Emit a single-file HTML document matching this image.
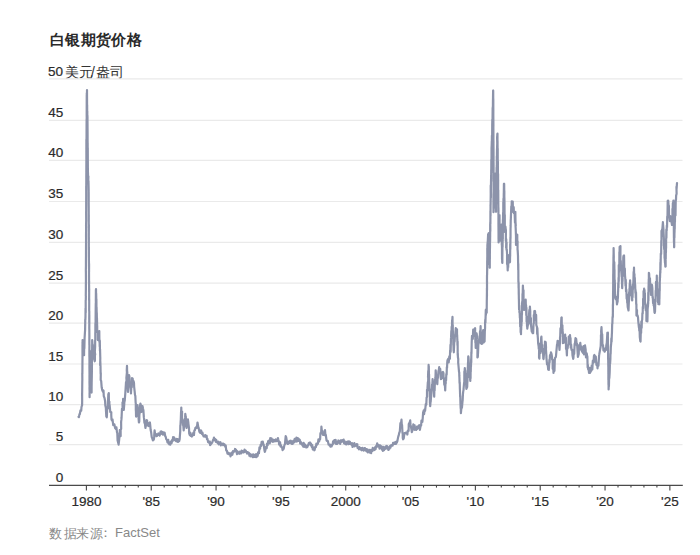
<!DOCTYPE html>
<html><head><meta charset="utf-8"><style>
html,body{margin:0;padding:0;background:#fff;width:700px;height:555px;overflow:hidden}
body{font-family:"Liberation Sans",sans-serif;position:relative}
.t{position:absolute;white-space:nowrap;line-height:20px}
svg{position:absolute;left:0;top:0}
</style></head><body>
<div class="t" style="left:50.2px;top:30px;font-size:15px;font-weight:bold;color:#2a2a2a">白</div><div class="t" style="left:65.1px;top:30px;font-size:15px;font-weight:bold;color:#2a2a2a">银</div><div class="t" style="left:80.9px;top:30px;font-size:15px;font-weight:bold;color:#2a2a2a">期</div><div class="t" style="left:96.1px;top:30px;font-size:15px;font-weight:bold;color:#2a2a2a">货</div><div class="t" style="left:111.1px;top:30px;font-size:15px;font-weight:bold;color:#2a2a2a">价</div><div class="t" style="left:126.5px;top:30px;font-size:15px;font-weight:bold;color:#2a2a2a">格</div>
<div class="t" style="left:48px;top:62.2px;font-size:13.5px;font-weight:normal;color:#2b2b2b;-webkit-text-stroke:0.2px #2b2b2b;top:62px">50</div><div class="t" style="left:65.1px;top:62.2px;font-size:14px;font-weight:normal;color:#333">美</div><div class="t" style="left:78.6px;top:62.2px;font-size:14px;font-weight:normal;color:#333">元</div><div class="t" style="left:91.0px;top:62.2px;font-size:14px;font-weight:normal;color:#333">/</div><div class="t" style="left:96.0px;top:62.2px;font-size:14px;font-weight:normal;color:#333">盎</div><div class="t" style="left:110.3px;top:62.2px;font-size:14px;font-weight:normal;color:#333">司</div>
<div class="t" style="left:49.4px;top:523.5px;font-size:13.2px;font-weight:normal;color:#888">数</div><div class="t" style="left:63.6px;top:523.5px;font-size:13.2px;font-weight:normal;color:#888">据</div><div class="t" style="left:76.2px;top:523.5px;font-size:13.2px;font-weight:normal;color:#888">来</div><div class="t" style="left:89.8px;top:523.5px;font-size:13.2px;font-weight:normal;color:#888">源</div><div class="t" style="left:99.3px;top:523.3px;font-size:13px;font-weight:normal;color:#888">：</div><div class="t" style="left:115px;top:523.3px;font-size:13px;font-weight:normal;color:#888">FactSet</div>
<svg width="700" height="555" viewBox="0 0 700 555">
<g stroke="#eaeaea" stroke-width="1.2" fill="none"><line x1="49" y1="78.9" x2="682.5" y2="78.9" /><line x1="49" y1="120.3" x2="682.5" y2="120.3" /><line x1="49" y1="160.4" x2="682.5" y2="160.4" /><line x1="49" y1="201.5" x2="682.5" y2="201.5" /><line x1="49" y1="242.3" x2="682.5" y2="242.3" /><line x1="49" y1="283.2" x2="682.5" y2="283.2" /><line x1="49" y1="323.2" x2="682.5" y2="323.2" /><line x1="49" y1="364.0" x2="682.5" y2="364.0" /><line x1="49" y1="404.6" x2="682.5" y2="404.6" /><line x1="49" y1="444.65" x2="682.5" y2="444.65" /></g>
<g font-family="Liberation Sans" font-size="13.5" fill="#2b2b2b" stroke="#2b2b2b" stroke-width="0.2"><text x="63.3" y="117.10" text-anchor="end">45</text><text x="63.3" y="157.20" text-anchor="end">40</text><text x="63.3" y="198.30" text-anchor="end">35</text><text x="63.3" y="239.10" text-anchor="end">30</text><text x="63.3" y="280.00" text-anchor="end">25</text><text x="63.3" y="320.00" text-anchor="end">20</text><text x="63.3" y="360.80" text-anchor="end">15</text><text x="63.3" y="401.40" text-anchor="end">10</text><text x="63.3" y="441.45" text-anchor="end">5</text><text x="63.3" y="482.30" text-anchor="end">0</text></g>
<polyline points="78.50,416.80 78.93,417.12 79.47,414.11 79.80,414.27 80.50,410.30 81.22,410.70 81.50,407.00 82.10,405.20 82.16,400.46 82.16,400.56 82.12,393.52 82.16,392.55 82.23,386.80 82.22,386.16 82.28,381.37 82.34,379.73 82.27,372.91 82.37,373.74 82.38,369.59 82.39,371.75 82.42,364.29 82.43,364.07 82.48,358.83 82.51,354.79 82.48,345.17 82.55,344.21 82.50,342.38 82.61,343.50 82.60,340.10 83.50,345.00 83.88,344.60 83.86,350.78 84.10,355.20 84.07,353.79 84.18,346.43 84.36,348.53 84.60,338.07 84.60,338.00 84.99,331.54 85.10,330.00 85.19,323.74 85.19,325.82 85.25,319.33 85.34,320.92 85.50,315.98 85.48,317.55 85.54,308.28 85.72,312.43 85.68,300.56 85.80,300.00 85.87,296.06 85.78,296.01 85.90,287.04 85.87,290.86 85.89,282.19 85.91,286.76 85.95,275.40 85.94,281.38 85.91,273.21 85.86,270.21 85.96,265.01 85.94,268.78 85.94,264.02 85.94,261.57 86.03,252.57 85.99,258.36 86.03,245.15 86.05,245.04 86.07,237.11 86.08,237.26 86.11,233.12 86.03,236.80 86.12,226.47 86.13,231.41 86.11,226.58 86.05,226.32 86.18,220.51 86.19,221.33 86.13,211.92 86.17,211.61 86.23,203.13 86.18,209.41 86.20,200.00 86.22,194.63 86.19,185.92 86.28,190.32 86.27,183.23 86.28,191.48 86.30,175.37 86.28,177.39 86.36,169.21 86.33,172.47 86.38,158.69 86.37,163.49 86.43,145.70 86.37,159.46 86.37,139.47 86.42,146.27 86.47,144.28 86.51,152.03 86.43,142.46 86.55,154.06 86.51,140.27 86.56,154.65 86.52,137.75 86.53,142.12 86.56,127.00 86.56,128.33 86.60,120.00 86.70,118.20 86.71,110.98 86.67,116.65 86.73,94.99 86.85,108.48 86.78,93.05 86.87,98.26 86.96,95.88 87.00,103.81 87.00,90.00 87.09,109.25 87.04,97.64 87.07,108.62 87.13,104.80 87.16,116.11 87.16,104.84 87.20,115.68 87.30,111.10 87.29,119.06 87.42,115.23 87.41,123.78 87.49,116.43 87.50,121.25 87.48,119.20 87.59,134.62 87.60,140.00 87.66,149.41 87.67,142.63 87.71,155.34 87.77,147.76 87.86,169.39 87.83,161.75 87.88,172.78 87.89,168.49 87.95,172.90 88.00,172.50 88.11,183.28 88.39,176.34 88.21,182.19 88.47,180.76 88.67,191.10 88.60,192.50 88.62,197.33 88.68,192.10 88.70,201.53 88.61,197.39 88.67,203.21 88.72,207.51 88.74,221.89 88.77,214.64 88.76,224.97 88.74,219.13 88.76,227.66 88.87,224.43 88.81,233.41 88.85,225.52 88.80,239.43 88.85,237.18 88.83,249.65 88.93,246.95 88.90,257.13 88.90,249.34 88.92,260.03 88.97,263.68 89.05,269.52 89.07,263.41 89.04,271.91 89.00,270.33 89.06,282.87 89.13,281.34 89.04,285.03 89.09,285.04 89.11,291.64 89.18,288.53 89.12,300.40 89.16,298.67 89.20,300.00 89.20,304.64 89.17,310.57 89.29,311.68 89.22,319.42 89.32,314.69 89.31,322.56 89.29,315.34 89.24,322.47 89.33,321.29 89.27,328.36 89.32,329.62 89.38,337.05 89.34,337.51 89.36,345.07 89.44,344.52 89.37,352.09 89.37,355.18 89.37,356.44 89.41,355.79 89.50,363.38 89.47,362.15 89.45,367.14 89.44,367.36 89.52,375.48 89.48,375.45 89.52,380.56 89.48,382.15 89.58,386.91 89.50,387.86 89.63,392.81 89.56,392.97 89.60,397.20 89.67,388.89 89.71,391.04 89.76,384.04 89.81,385.08 89.77,379.10 89.86,379.02 89.89,373.08 89.89,374.39 89.96,367.75 90.02,369.08 90.01,363.10 90.11,362.78 90.14,354.79 90.13,356.34 90.20,351.20 90.30,351.70 90.45,351.74 90.49,359.94 90.60,360.96 90.77,368.17 90.81,366.99 90.94,377.76 91.05,375.18 91.23,378.12 91.26,380.29 91.43,388.05 91.47,386.11 91.60,392.60 91.62,384.42 91.65,385.84 91.69,380.58 91.69,382.19 91.82,376.08 91.80,376.67 91.90,370.97 91.87,370.96 91.96,364.20 91.90,364.77 91.96,356.67 92.07,358.80 92.07,349.11 92.12,352.10 92.16,345.01 92.18,347.60 92.20,340.10 92.75,347.54 92.85,344.79 93.02,354.71 93.50,355.00 94.01,358.57 94.70,361.30 94.91,360.18 94.90,354.16 95.20,354.79 94.83,351.72 95.13,346.60 95.17,340.23 95.30,340.00 95.29,332.74 95.36,332.38 95.39,323.61 95.43,326.41 95.48,322.66 95.61,327.90 95.61,316.50 95.58,319.96 95.72,306.00 95.69,310.01 95.76,303.38 95.78,308.69 95.87,301.10 95.83,301.28 95.90,289.97 95.92,290.33 96.00,289.00 96.08,295.51 96.16,293.28 96.31,300.63 96.41,299.20 96.45,308.00 96.57,307.16 96.76,316.85 96.79,312.82 96.96,323.42 96.96,317.95 97.15,326.02 97.20,326.00 97.23,332.14 97.80,332.96 97.86,339.80 98.00,340.00 98.65,340.40 99.10,333.56 99.30,331.00 99.36,338.33 99.51,342.37 99.59,340.51 99.71,346.45 99.82,340.65 99.95,351.10 100.05,349.10 100.24,356.50 100.30,358.00 100.17,365.23 100.32,361.22 100.51,367.65 100.50,365.67 100.65,374.05 100.78,372.95 100.70,380.00 101.17,380.92 101.67,387.30 102.20,390.10 102.97,391.70 103.50,390.50 103.77,396.10 104.56,398.19 105.09,400.93 105.30,405.20 105.89,407.89 105.88,408.95 106.31,416.47 106.80,417.30 106.93,415.05 107.14,409.10 107.77,408.58 107.94,402.49 108.07,399.98 108.33,394.18 108.74,395.37 108.80,393.10 108.92,401.92 109.40,401.70 109.34,406.27 109.61,404.94 110.21,411.01 110.20,412.00 110.63,411.69 111.30,412.30 111.26,415.00 111.50,419.40 112.01,420.42 112.51,419.51 113.23,425.12 113.64,424.56 114.40,424.40 115.10,428.00 115.81,428.95 116.40,427.40 116.96,432.06 117.30,433.13 117.59,440.57 118.19,442.82 118.60,444.60 118.97,441.27 119.04,441.07 119.69,433.95 119.80,430.20 120.50,436.00 120.66,436.04 120.64,429.71 121.17,428.86 121.12,421.77 121.38,419.93 121.60,417.20 121.71,414.45 121.97,408.92 122.57,409.25 122.51,402.41 123.05,401.86 123.10,398.90 123.50,401.53 123.68,402.43 123.80,410.00 124.29,403.92 124.13,405.10 124.47,401.23 124.70,401.16 125.34,392.77 125.50,390.10 126.03,382.19 126.35,385.15 126.50,380.00 126.39,377.92 126.91,372.45 126.77,370.26 127.00,365.80 127.12,371.06 127.28,372.11 127.35,378.29 127.51,378.71 127.61,384.26 127.78,382.24 127.84,390.50 128.00,392.00 128.05,389.37 128.40,384.30 128.75,379.78 128.97,375.12 129.00,375.00 129.37,376.20 129.82,383.81 130.27,385.42 130.50,388.00 131.00,393.00 130.96,393.40 131.40,385.57 131.79,387.30 131.93,380.25 132.00,378.00 132.67,378.56 133.12,384.06 133.54,381.07 134.00,383.00 134.15,386.82 134.67,391.72 134.66,391.44 135.00,395.00 135.33,395.94 135.66,403.03 135.79,403.28 135.82,410.61 135.92,410.60 136.05,416.60 136.50,416.20 136.81,415.29 137.29,408.95 137.50,405.00 137.64,406.66 138.25,412.76 138.43,413.16 138.60,418.78 138.90,422.50 139.26,421.54 139.38,414.46 139.60,413.91 139.98,407.06 140.09,405.27 140.40,403.60 141.09,405.91 141.50,412.00 142.11,409.79 142.50,406.00 143.10,409.00 143.38,410.16 143.87,417.38 144.00,418.00 144.43,422.81 144.82,422.45 145.40,428.00 146.10,424.16 146.50,420.00 147.07,420.45 147.53,425.30 148.07,423.07 148.66,426.02 149.00,424.40 149.90,422.50 150.24,425.44 150.66,430.07 151.15,432.34 151.73,437.06 152.20,438.20 152.90,440.46 153.40,439.15 153.80,439.70 154.29,436.64 154.21,435.30 154.60,430.30 155.03,433.58 156.00,433.97 156.54,436.15 157.00,436.00 157.65,434.81 158.34,433.50 158.63,434.80 159.30,435.00 159.69,435.52 160.56,431.68 161.09,433.91 161.60,431.48 162.00,433.00 162.58,432.12 163.08,434.68 163.78,432.49 164.05,433.90 164.63,432.75 165.25,436.26 165.60,436.60 166.27,439.25 167.00,440.00 167.45,442.41 168.24,439.86 168.65,443.64 169.04,441.99 169.50,444.50 170.02,443.41 170.40,444.63 171.05,441.38 171.64,443.07 172.00,440.00 172.60,441.05 173.08,437.15 173.45,438.99 174.20,437.40 174.73,440.08 175.28,439.18 176.00,441.00 176.69,438.98 177.09,441.46 177.62,439.14 178.09,442.00 178.86,439.34 179.16,441.17 179.70,439.00 179.80,437.03 180.08,433.38 180.23,431.41 180.31,425.47 180.46,425.53 180.70,420.45 180.77,420.55 181.03,412.21 181.20,410.50 181.30,407.50 181.39,411.92 182.08,411.58 181.98,419.32 182.50,420.00 183.05,425.20 183.26,424.87 183.70,430.30 183.92,427.62 184.58,425.23 184.71,418.97 185.15,417.14 185.30,413.80 185.69,416.93 185.79,416.24 186.08,422.28 186.50,428.00 187.37,423.38 187.90,419.30 188.38,422.88 188.34,423.22 189.02,428.25 189.20,433.50 189.78,435.21 190.36,432.73 190.73,435.87 191.13,434.29 191.93,436.51 192.30,435.00 192.69,435.33 193.41,432.66 193.93,435.03 194.40,430.34 195.00,430.00 195.42,427.74 195.76,428.28 196.49,426.56 196.88,427.88 197.50,422.50 198.37,427.36 198.61,427.71 199.40,431.90 200.11,430.37 200.22,432.89 201.19,430.54 201.51,433.13 202.00,434.00 202.41,432.62 202.93,434.87 203.67,436.48 204.10,435.95 204.90,436.60 205.26,435.12 206.19,436.96 206.63,435.87 206.95,439.17 207.40,438.80 208.10,442.10 208.51,441.15 209.35,443.12 209.84,441.51 210.14,445.12 210.73,444.29 211.20,443.70 211.62,443.16 212.18,442.54 213.00,440.00 213.49,439.70 213.97,437.62 214.57,440.20 215.10,439.00 215.90,441.91 216.19,439.87 216.75,442.12 217.50,442.10 217.93,443.37 218.40,441.74 218.76,444.43 219.33,442.54 220.00,443.00 220.40,442.16 220.82,445.42 221.39,443.53 222.00,444.00 222.42,443.73 223.14,445.17 223.34,443.60 224.05,444.77 224.60,444.50 225.36,447.00 225.74,445.57 226.21,450.45 226.90,450.80 227.46,453.63 227.93,452.58 228.54,454.23 229.06,453.21 229.59,453.85 229.97,453.43 230.50,456.31 231.00,455.00 231.30,455.09 231.80,452.51 232.35,454.77 233.00,451.00 233.39,452.35 233.89,451.26 234.62,451.29 235.02,448.96 235.70,449.50 236.11,449.93 237.07,454.19 237.44,451.23 238.00,453.50 238.45,452.99 239.26,453.72 239.70,451.72 240.05,451.95 240.51,452.34 240.99,453.44 241.57,450.62 241.89,452.15 242.65,451.05 243.22,452.53 243.60,451.00 244.04,452.17 244.52,449.66 245.13,451.34 245.76,450.58 246.26,452.37 246.72,451.88 247.08,453.62 247.75,452.13 248.30,452.70 248.86,452.79 249.41,455.75 249.87,453.79 250.35,456.31 250.89,454.60 251.40,455.00 251.84,454.94 252.45,457.06 253.11,454.33 253.28,457.10 253.97,456.40 254.67,456.93 255.19,454.64 255.52,457.02 256.30,454.22 256.66,457.10 257.17,455.09 257.70,455.80 258.05,452.34 258.94,453.28 259.46,447.35 260.10,448.70 260.62,444.84 261.08,446.02 261.63,441.85 262.43,444.33 262.80,441.70 263.34,444.44 263.71,444.52 264.47,450.27 264.80,451.90 265.13,451.17 266.05,446.80 266.72,448.20 266.97,443.70 267.63,445.25 268.16,441.09 268.70,442.50 269.41,440.24 269.76,443.46 270.22,438.22 270.99,441.53 271.52,438.45 271.90,439.30 272.63,439.68 272.91,441.93 273.48,439.91 274.00,441.00 274.68,440.10 274.81,441.34 275.66,439.46 276.02,441.17 276.60,440.90 277.16,440.88 277.90,438.12 278.20,439.30 278.58,440.47 279.19,444.52 280.08,442.35 280.50,446.40 280.97,445.33 281.45,447.09 282.02,447.12 282.58,450.07 283.36,449.27 283.70,448.70 284.38,445.14 284.90,444.44 285.43,438.83 285.70,436.20 286.19,437.24 287.15,443.22 287.60,444.00 288.04,443.86 288.61,441.58 289.34,443.07 290.00,440.90 290.46,441.99 290.88,440.69 291.59,443.80 292.11,442.23 292.60,443.93 293.21,440.81 293.90,442.50 294.66,438.91 294.83,441.79 295.50,438.50 296.06,440.38 296.41,437.55 296.89,441.58 297.74,438.16 298.20,440.95 298.44,438.69 299.35,441.21 299.73,439.73 300.23,443.56 300.61,441.58 301.36,443.81 301.80,443.20 302.44,445.47 302.89,444.16 303.23,446.71 303.67,442.88 304.23,446.95 305.01,444.47 305.41,446.73 305.65,445.23 306.24,447.48 306.68,446.34 307.30,447.20 307.97,445.12 308.20,445.42 308.80,443.12 309.60,442.50 310.27,442.56 310.85,445.31 311.11,443.81 311.85,447.13 312.17,444.98 312.83,449.49 313.23,447.30 313.88,448.72 314.30,450.30 314.61,450.06 315.39,446.51 315.97,446.98 316.36,443.70 316.82,444.99 317.50,444.00 317.87,443.84 318.43,439.36 319.19,441.36 319.50,440.00 320.11,439.07 320.43,433.22 321.09,433.70 321.40,426.70 321.89,431.14 322.41,430.82 323.18,435.00 323.80,434.60 324.53,435.00 325.00,430.00 325.49,435.50 325.75,434.71 326.57,440.48 327.00,440.90 327.32,440.63 327.90,441.09 328.57,444.50 329.14,444.44 329.62,445.59 330.00,445.60 330.55,446.68 330.90,444.71 331.60,446.40 332.38,444.36 332.72,444.42 333.07,441.31 333.67,443.38 334.40,440.10 334.79,441.78 335.66,439.90 335.98,443.79 336.52,441.64 337.10,444.00 337.47,442.25 338.07,442.85 338.39,440.47 339.08,442.38 339.84,441.67 340.16,443.88 340.65,440.39 341.14,442.08 341.50,440.28 342.25,441.46 342.60,440.10 343.19,441.81 343.65,439.52 344.10,443.46 344.69,441.24 345.35,444.12 345.70,443.20 346.26,444.39 346.77,441.95 347.30,441.70 347.96,441.61 348.44,444.26 348.96,441.45 349.53,443.82 349.91,441.85 350.40,444.00 350.89,443.56 351.51,444.81 351.96,443.13 352.59,446.97 353.25,444.39 353.72,445.85 354.30,443.09 354.62,446.46 355.20,445.60 355.58,445.51 356.46,444.21 356.64,445.87 357.33,444.32 357.57,448.02 358.36,447.60 358.95,449.38 359.39,447.10 359.90,448.00 360.29,447.92 361.12,449.94 361.61,448.14 361.91,450.27 362.45,447.84 363.00,449.50 363.65,448.82 363.77,450.59 364.53,448.05 365.00,448.00 365.30,448.99 366.24,451.03 366.39,449.04 367.00,451.43 367.73,449.42 367.81,452.45 368.50,451.10 369.07,451.65 369.74,449.76 370.14,452.75 370.60,451.90 371.09,453.24 371.65,449.96 372.54,450.92 372.73,447.95 373.26,449.75 374.00,448.70 374.41,450.01 374.90,447.40 375.53,449.27 376.04,446.19 376.34,447.37 377.14,443.40 377.66,444.29 378.00,444.80 378.32,446.49 378.97,445.12 379.52,448.64 380.08,445.38 381.02,448.15 381.53,446.28 381.90,449.50 382.52,447.58 382.87,450.87 383.52,446.74 384.05,450.14 384.75,447.97 385.24,448.74 385.80,446.40 386.36,447.90 386.98,446.00 387.20,448.60 387.73,446.77 388.44,449.95 389.00,448.70 389.44,448.74 390.16,445.86 390.45,447.74 390.96,445.30 391.78,445.13 392.10,445.60 392.63,445.60 393.09,442.75 393.72,444.06 394.50,442.50 395.03,443.93 395.86,441.89 396.06,443.79 396.80,442.50 397.32,441.29 398.20,436.84 398.72,435.39 399.20,433.00 399.81,431.49 400.41,423.14 400.80,424.57 401.50,419.70 401.84,425.91 402.07,424.95 402.48,433.25 402.73,433.34 402.75,437.87 403.10,439.30 403.68,438.47 404.49,433.18 405.04,433.62 405.50,433.00 405.84,432.55 406.86,432.43 407.34,434.54 407.80,430.70 408.61,430.81 408.77,424.05 409.75,422.29 410.20,420.40 410.54,424.69 411.46,429.48 411.80,432.20 412.39,430.35 412.92,429.79 413.30,424.40 413.82,427.63 414.62,425.28 414.94,429.88 415.70,428.30 416.30,429.87 416.93,426.66 417.45,428.85 418.00,426.70 418.54,426.03 419.21,425.14 419.90,429.90 420.69,425.26 421.12,425.60 421.45,420.51 422.36,421.79 422.80,417.30 423.10,412.50 423.70,410.50 424.11,414.24 424.65,409.26 425.10,411.00 425.76,404.20 426.30,404.60 426.60,397.65 426.98,396.98 427.01,389.77 427.08,391.53 427.50,388.90 427.51,387.69 427.85,382.05 428.11,385.25 428.22,377.25 428.00,377.27 428.25,370.81 428.47,372.14 428.60,364.90 428.72,370.83 428.80,366.37 428.95,375.54 429.07,374.17 429.16,381.27 429.30,382.67 429.43,390.89 429.53,388.56 429.75,396.62 429.85,395.66 429.90,403.26 430.05,401.15 430.20,406.20 430.48,402.39 430.69,401.76 431.02,397.21 431.21,396.17 431.53,389.69 431.83,389.37 432.06,384.48 432.32,385.44 432.60,379.00 433.08,383.45 433.01,382.75 433.59,388.71 433.74,390.49 434.20,396.70 434.40,389.90 434.60,390.73 434.79,385.04 434.96,383.27 435.09,379.27 435.33,379.47 435.48,377.17 435.70,370.40 436.06,375.03 436.40,378.90 436.78,380.31 437.30,384.20 437.67,377.22 437.99,378.05 438.47,370.85 438.73,370.53 439.20,367.20 439.85,370.00 440.25,368.98 440.92,379.16 441.20,379.00 441.57,378.60 442.24,372.50 443.00,372.00 443.45,373.23 443.59,378.28 443.95,378.25 444.26,384.54 444.91,385.83 445.20,390.40 445.45,384.07 445.70,383.40 445.87,377.82 446.08,380.43 446.31,374.01 446.64,374.75 446.83,367.17 447.05,367.85 447.26,362.32 447.50,360.20 448.32,358.65 448.71,362.46 449.30,356.46 449.90,358.60 450.11,350.50 450.25,352.37 450.47,344.90 450.64,351.85 450.96,338.52 451.04,337.89 451.33,330.84 451.54,334.39 451.65,326.83 451.94,329.56 452.10,320.27 452.32,319.52 452.50,316.90 452.58,325.27 452.78,324.93 452.85,336.14 452.92,330.92 453.10,338.64 453.21,338.09 453.31,345.27 453.40,343.67 453.61,350.96 453.74,346.10 453.80,352.30 454.17,344.08 454.16,343.93 454.42,339.60 454.55,341.90 455.00,335.00 455.28,335.10 455.77,328.10 456.60,335.58 457.00,329.30 457.04,335.21 457.15,334.88 457.33,340.58 457.36,339.33 457.46,345.24 457.64,341.57 457.70,355.33 457.82,353.40 457.90,357.00 458.24,359.02 458.20,362.87 458.42,365.00 459.05,372.24 459.22,372.38 459.30,375.90 459.41,377.63 459.57,383.13 459.74,382.39 459.88,389.34 459.93,389.61 460.15,397.04 460.27,395.80 460.39,400.84 460.45,403.30 460.68,408.54 460.80,407.11 460.90,413.20 461.39,408.25 461.95,407.73 462.50,401.40 462.63,400.72 462.94,394.17 463.20,391.60 463.59,389.46 463.54,389.04 464.08,383.09 464.31,381.64 464.35,371.53 464.42,374.96 464.80,368.00 465.29,372.66 465.26,370.68 465.63,378.79 466.08,380.84 466.22,386.91 466.40,388.90 467.20,386.90 467.33,381.99 467.42,382.29 467.57,373.31 467.65,378.09 467.78,367.30 467.80,370.83 468.02,362.22 468.09,364.41 468.22,357.39 468.30,356.40 468.51,357.21 468.87,364.05 469.28,363.77 469.40,368.82 469.71,368.19 469.72,377.25 469.88,376.54 470.30,381.00 470.40,377.23 470.59,378.33 470.61,369.77 470.76,371.73 470.87,365.16 470.97,366.62 471.16,358.70 471.27,362.53 471.35,351.90 471.49,353.54 471.64,345.06 471.70,342.30 472.00,335.85 472.80,338.82 473.17,329.68 473.86,335.91 474.52,329.45 474.90,328.50 475.13,328.10 475.11,331.23 475.25,335.11 475.36,342.59 475.58,342.81 475.70,348.00 475.88,346.15 476.33,346.17 476.41,335.60 476.60,333.40 476.86,334.93 476.94,339.38 477.27,341.78 477.48,347.71 477.51,348.53 477.41,357.40 477.80,357.00 478.03,353.02 478.34,344.45 478.59,343.86 478.94,340.34 479.17,339.96 479.52,336.06 479.80,337.58 480.02,331.21 480.33,333.13 480.60,326.20 480.80,337.27 480.96,337.86 480.92,343.25 481.27,338.47 481.50,344.00 482.08,336.74 482.26,343.76 482.59,334.12 483.20,330.20 483.19,331.60 483.39,336.63 483.62,336.93 483.80,342.30 484.23,338.60 484.59,341.43 484.80,332.00 484.75,332.40 485.07,328.28 485.10,323.00 485.25,319.72 485.42,322.65 485.81,309.90 485.87,315.23 486.56,308.33 486.70,312.69 486.80,300.00 486.83,300.07 486.92,292.83 486.96,296.23 486.92,288.14 487.01,290.32 487.01,280.90 486.97,282.40 487.01,275.49 487.10,274.31 487.18,266.81 487.18,270.84 487.19,260.54 487.24,265.08 487.28,257.07 487.33,260.77 487.28,248.13 487.35,252.14 487.40,245.00 487.85,240.02 488.11,234.44 488.80,233.10 488.92,235.73 488.99,248.13 489.08,242.02 489.07,250.38 489.23,248.27 489.31,263.73 489.31,259.01 489.41,264.64 489.57,264.58 489.62,267.70 489.70,267.30 489.79,267.70 489.80,256.92 489.87,259.05 489.85,250.93 489.86,254.74 490.01,244.46 489.97,248.06 490.01,237.77 490.11,241.51 490.19,229.84 490.15,237.16 490.20,223.81 490.34,231.35 490.28,221.94 490.39,224.65 490.43,210.76 490.52,215.94 490.55,204.60 490.50,205.60 490.60,205.00 490.72,194.95 490.70,185.39 490.76,194.78 490.86,187.84 490.93,197.49 490.93,189.20 491.01,181.89 491.13,175.07 491.17,181.35 491.20,171.07 491.30,168.02 491.32,159.60 491.34,172.85 491.49,159.60 491.50,160.00 491.54,148.39 491.70,144.81 491.79,141.09 491.80,148.30 491.92,135.59 491.93,137.29 492.01,136.38 492.13,143.37 492.22,123.69 492.21,127.59 492.30,119.60 492.42,124.85 492.50,120.00 492.53,120.40 492.65,107.91 492.68,119.84 492.75,106.81 492.85,111.86 492.94,100.92 493.01,97.58 493.13,90.50 493.20,90.90 493.20,90.50 493.24,104.31 493.29,98.58 493.32,108.68 493.31,99.84 493.28,116.11 493.34,108.48 493.31,118.72 493.30,114.95 493.34,122.64 493.31,113.82 493.43,126.35 493.35,122.55 493.44,136.57 493.39,133.06 493.44,144.56 493.46,140.79 493.48,153.79 493.50,147.21 493.57,160.75 493.53,152.08 493.50,161.61 493.52,160.15 493.56,168.87 493.56,162.43 493.60,170.00 493.59,169.60 493.52,178.98 493.57,174.32 493.58,182.03 493.58,178.32 493.60,193.25 493.53,192.70 493.50,201.43 493.48,193.96 493.47,208.50 493.55,202.07 493.57,211.79 493.56,204.15 493.50,212.20 493.89,198.30 493.64,205.13 493.91,195.55 494.30,199.43 494.30,189.80 494.29,196.55 494.50,190.00 494.62,190.40 494.65,180.57 495.15,180.83 495.10,173.60 495.20,174.00 495.26,173.90 495.38,186.67 495.37,176.02 495.46,185.11 495.47,190.12 495.57,200.16 495.67,201.48 495.77,208.13 495.77,200.04 495.88,206.68 495.89,203.84 496.00,211.80 496.02,198.91 496.08,204.31 496.18,192.85 496.20,198.50 496.25,188.30 496.33,188.92 496.39,178.26 496.39,184.47 496.51,179.24 496.47,184.94 496.58,172.17 496.57,173.52 496.60,167.43 496.69,173.99 496.76,164.96 496.83,171.38 496.79,156.27 496.86,162.60 496.99,149.60 497.00,150.00 497.23,143.03 497.08,137.30 497.49,133.50 497.25,134.95 497.50,133.90 497.48,140.66 497.54,140.87 497.64,153.92 497.71,148.52 497.65,158.48 497.72,148.46 497.74,163.41 497.76,159.42 497.87,169.22 497.87,161.20 497.89,179.20 497.92,177.06 497.99,182.13 498.08,173.81 498.09,181.58 498.16,179.74 498.11,190.40 498.20,190.00 498.17,194.17 498.24,189.71 498.30,199.27 498.27,202.27 498.34,212.24 498.32,202.25 498.33,209.19 498.43,207.53 498.47,222.24 498.46,218.74 498.47,224.16 498.44,223.15 498.55,235.14 498.53,229.21 498.54,239.19 498.53,234.18 498.60,242.50 498.67,231.01 498.80,236.72 498.89,227.60 499.05,228.45 499.12,218.92 499.14,223.08 499.30,222.96 499.37,223.76 499.50,215.00 499.60,226.06 499.70,229.00 499.79,239.02 499.95,232.20 500.02,240.15 500.15,236.02 500.26,240.70 500.40,240.30 500.78,240.70 500.65,225.26 501.05,232.58 501.35,224.60 501.30,225.00 501.37,224.60 501.41,236.48 501.56,233.71 501.56,239.50 501.68,231.11 501.78,245.18 501.80,237.39 501.94,247.61 501.96,246.08 502.00,259.18 502.14,257.40 502.20,262.60 502.32,259.53 502.35,263.00 502.36,255.67 502.38,256.17 502.47,241.72 502.59,247.09 502.63,236.93 502.68,241.18 502.71,236.70 502.81,239.90 502.81,230.58 502.84,225.35 502.91,219.60 503.00,220.00 503.09,212.66 503.26,215.62 503.30,202.24 503.43,214.27 503.45,198.70 503.64,210.00 503.75,193.23 503.76,197.62 503.92,183.80 504.05,191.05 504.10,184.20 504.10,195.04 504.18,183.80 504.27,193.53 504.35,190.75 504.32,200.82 504.36,196.98 504.46,200.41 504.49,202.01 504.58,216.61 504.53,216.26 504.62,226.89 504.71,221.38 504.65,223.45 504.81,214.94 504.80,232.00 505.45,226.66 505.80,230.20 505.92,229.80 505.83,241.05 506.27,239.31 506.14,247.96 506.59,242.61 506.50,250.00 506.81,249.60 507.07,254.32 507.07,253.66 507.08,263.92 507.48,265.04 507.70,270.50 507.81,260.57 508.18,267.65 508.34,258.02 508.59,258.02 509.00,255.00 509.74,262.40 510.00,262.00 510.01,259.65 510.17,251.14 510.15,256.19 510.22,244.09 510.33,249.19 510.37,239.36 510.42,243.57 510.43,237.17 510.53,238.55 510.55,228.94 510.66,225.89 510.74,219.60 510.73,219.60 510.80,220.00 510.86,218.10 511.30,206.40 511.27,211.80 511.32,206.80 511.60,207.54 511.70,201.30 512.34,205.97 512.73,201.51 513.00,212.00 513.70,207.20 513.92,213.26 514.53,211.46 515.00,222.70 515.35,211.85 515.50,222.30 515.37,221.90 515.77,225.57 515.49,221.90 515.55,226.26 515.69,228.43 515.98,235.61 516.00,245.00 516.28,234.60 516.91,234.60 517.00,235.00 517.26,234.60 517.30,244.28 517.57,241.36 517.55,250.21 517.66,249.90 518.04,256.67 518.00,256.30 518.09,261.85 518.13,263.05 518.23,270.06 518.29,263.68 518.38,275.30 518.36,277.42 518.42,282.35 518.55,281.84 518.60,288.25 518.66,283.07 518.75,294.54 518.72,288.81 518.87,299.30 518.90,298.90 519.08,309.41 519.23,305.53 519.42,312.38 519.63,311.27 519.87,317.94 520.01,317.09 520.21,326.72 520.49,319.60 520.63,332.33 520.85,331.23 521.00,334.20 521.07,326.41 521.18,329.96 521.31,324.04 521.46,325.77 521.59,318.07 521.76,321.79 521.83,313.36 521.98,314.38 522.02,302.92 522.14,310.28 522.26,301.30 522.42,305.64 522.51,293.80 522.68,295.39 522.79,289.40 522.90,285.50 523.13,290.25 523.04,301.18 523.52,290.34 523.54,300.37 523.41,297.13 523.72,304.68 523.99,302.86 524.00,310.00 524.81,305.21 525.17,304.99 525.70,299.70 525.84,305.38 526.06,304.99 526.26,315.30 526.42,307.73 526.61,321.86 526.83,316.78 527.00,326.22 527.09,324.39 527.30,328.70 527.88,324.86 528.13,324.64 528.38,316.92 528.69,319.09 529.36,309.97 529.69,312.16 529.90,306.70 530.30,312.29 530.18,310.20 530.40,323.72 530.87,318.00 530.94,324.29 531.00,325.00 531.77,331.57 531.88,329.63 532.60,333.10 533.10,332.70 533.15,333.10 533.56,323.30 533.82,323.33 533.79,315.16 534.11,318.86 534.34,311.00 534.70,311.40 535.02,311.00 535.79,320.28 536.13,314.96 536.32,325.02 537.00,327.20 537.17,334.07 537.36,328.03 537.71,336.05 537.90,338.53 538.14,343.29 538.60,346.00 538.80,348.98 539.11,348.35 539.03,357.48 539.40,358.60 539.44,356.18 539.77,349.72 540.50,352.88 540.40,343.45 540.92,346.18 541.14,338.04 541.40,336.60 541.52,339.43 541.94,347.92 542.37,344.97 542.31,351.16 542.86,348.81 543.27,357.23 543.30,358.60 543.56,359.00 544.36,348.96 544.85,348.55 544.97,341.70 545.70,342.10 546.03,347.49 545.79,351.27 545.89,348.35 546.45,356.90 546.40,357.30 547.04,364.31 547.63,363.72 548.21,369.58 548.80,369.90 548.96,368.14 549.36,359.93 549.54,362.79 550.00,355.00 550.51,356.32 550.95,352.39 551.50,353.90 551.95,356.45 552.14,359.76 552.63,359.53 552.69,368.84 553.25,367.72 553.50,373.00 553.75,369.62 554.47,370.91 554.80,359.69 555.22,357.54 555.90,357.00 556.35,351.76 557.00,344.71 557.24,344.11 557.57,340.90 558.20,341.30 559.05,344.56 559.50,350.00 559.74,345.42 559.87,344.03 560.06,336.79 560.20,337.05 560.47,328.32 560.60,333.54 560.80,327.83 561.06,328.24 561.22,320.85 561.40,317.70 561.68,317.30 561.81,327.56 562.43,325.23 562.50,330.00 562.84,332.90 562.87,343.16 563.54,341.58 563.70,342.90 564.41,338.34 565.00,335.00 565.12,334.60 565.76,342.51 565.93,337.84 566.02,348.79 566.55,349.86 566.90,355.50 567.10,348.45 567.63,348.40 568.00,345.00 568.42,344.79 568.79,336.51 569.43,338.16 570.00,335.00 570.47,342.11 570.53,338.09 570.73,347.83 571.15,344.56 571.50,350.00 572.18,349.60 572.49,355.30 573.20,358.90 573.43,357.68 573.85,350.72 574.17,354.03 574.64,343.80 574.93,343.87 575.50,338.20 575.92,342.63 576.16,338.94 576.87,345.75 577.07,343.77 577.66,352.69 577.90,357.00 578.74,353.98 578.94,345.45 579.71,346.88 580.30,342.90 580.87,349.58 581.32,346.33 581.87,351.24 582.50,352.00 582.90,352.93 583.69,346.08 583.97,354.37 584.66,346.26 585.00,345.30 585.63,349.42 585.97,357.40 586.70,353.36 587.30,357.00 587.37,356.60 587.65,367.54 587.83,364.70 588.10,369.10 588.77,370.36 589.02,372.86 589.65,367.81 590.06,372.85 590.87,371.05 591.30,370.70 591.70,365.54 592.32,369.32 592.82,360.72 593.52,362.60 593.93,356.04 594.40,355.00 595.06,356.83 595.59,361.92 595.79,356.57 596.42,364.82 597.17,363.41 597.50,368.30 597.97,363.73 598.43,365.66 599.15,354.71 599.19,354.70 599.90,350.80 600.70,346.30 600.91,338.97 600.96,339.61 600.93,335.10 601.35,337.77 601.14,331.27 601.50,327.20 601.68,331.18 602.08,338.76 602.21,334.33 602.45,345.04 603.00,345.00 603.45,350.46 604.42,348.77 604.71,351.77 605.40,349.40 606.01,349.80 606.31,345.24 606.79,343.10 607.36,332.88 607.80,332.70 607.89,332.71 607.83,341.05 607.93,336.69 607.95,343.51 608.04,344.16 608.09,349.77 608.12,352.20 608.11,359.54 608.18,357.73 608.28,364.75 608.34,367.08 608.36,373.96 608.38,372.64 608.38,379.75 608.45,376.85 608.48,384.42 608.60,385.21 608.60,389.50 608.78,385.23 608.94,386.17 609.12,376.40 609.34,378.29 609.55,374.69 609.67,372.39 609.92,363.20 610.10,363.60 610.39,358.88 610.40,357.99 610.48,353.56 610.62,354.04 610.84,346.89 611.20,343.50 611.34,338.46 611.55,341.88 611.85,334.23 611.95,333.16 612.17,324.03 612.36,323.67 612.57,316.90 612.80,317.30 612.80,314.26 612.87,316.51 612.89,304.56 612.91,307.91 613.03,302.57 613.05,303.32 613.06,292.28 613.09,295.72 613.08,291.68 613.11,294.72 613.20,281.24 613.21,283.37 613.21,274.32 613.27,275.01 613.35,263.88 613.34,270.85 613.45,260.03 613.46,263.83 613.43,256.86 613.52,261.27 613.50,254.83 613.56,256.15 613.60,248.10 613.81,257.59 613.71,253.04 613.79,262.81 614.29,262.16 614.42,270.40 614.13,266.90 614.50,270.00 614.52,277.55 614.62,284.96 614.76,280.07 614.81,287.59 614.87,282.69 615.02,295.20 615.07,294.70 615.15,298.00 615.20,297.60 615.72,299.29 616.49,297.06 616.97,304.35 617.50,301.50 617.62,301.90 617.82,294.68 617.92,298.26 618.03,292.03 618.14,291.40 618.27,283.11 618.48,287.83 618.55,277.65 618.76,281.23 618.79,265.19 618.93,272.27 619.10,265.62 619.29,267.55 619.38,252.10 619.48,259.22 619.63,246.92 619.78,251.21 619.90,246.50 619.83,252.66 620.45,246.10 620.41,260.54 620.41,256.67 620.47,266.24 620.80,260.90 621.00,270.00 621.25,270.72 621.64,276.60 621.68,273.22 622.01,282.54 622.04,284.10 622.20,288.20 622.37,280.49 622.53,281.14 622.62,274.31 622.85,276.47 623.00,266.75 623.16,264.35 623.30,257.32 623.42,256.47 623.68,255.50 623.80,255.90 624.05,255.50 624.24,267.85 624.27,267.27 624.54,274.12 624.83,268.49 625.00,275.00 625.32,279.04 625.58,285.95 625.76,279.74 626.04,291.47 626.36,289.78 626.66,298.79 626.93,294.26 627.21,302.81 627.48,302.96 627.70,307.00 628.50,310.40 628.64,307.24 628.84,302.31 629.02,300.24 629.15,291.99 629.34,293.97 629.48,288.43 629.65,289.73 629.75,283.75 629.94,284.40 630.10,280.30 630.25,285.56 630.82,287.47 630.92,295.19 631.34,290.36 631.60,294.08 632.00,300.00 632.22,300.40 632.37,294.41 632.56,297.26 632.82,284.59 632.98,289.19 633.21,284.43 633.37,282.45 633.63,271.82 633.79,274.64 634.00,267.70 634.18,276.92 634.45,273.98 634.58,284.90 634.80,277.83 635.05,287.03 635.15,284.44 635.42,293.05 635.54,289.76 635.84,297.88 636.03,292.46 636.19,304.30 636.40,303.90 636.46,315.60 637.00,310.00 637.00,315.20 637.51,315.38 638.00,317.30 638.29,321.33 638.88,327.33 638.86,324.02 639.31,330.87 639.50,325.57 639.80,337.12 640.30,341.10 640.56,341.50 640.78,331.80 641.12,333.04 641.34,321.62 641.64,327.90 641.90,320.77 642.20,319.72 642.40,313.20 642.70,313.60 642.81,306.90 643.12,308.27 643.11,298.80 643.54,301.60 643.55,291.16 644.00,293.45 644.15,288.62 644.20,289.00 644.57,290.49 644.85,301.74 644.92,293.36 644.99,302.98 645.50,305.00 645.79,310.43 646.39,309.17 646.41,321.12 646.77,318.10 647.40,321.40 647.53,316.28 647.56,315.50 647.66,304.78 647.78,308.21 647.91,302.84 648.03,306.22 648.05,301.79 648.20,304.03 648.27,292.61 648.42,300.79 648.56,286.31 648.58,287.42 648.75,279.11 648.84,282.20 648.87,272.82 649.00,273.20 649.16,273.77 649.54,283.24 649.97,278.37 650.35,290.54 650.34,288.21 650.91,292.24 651.00,295.00 651.43,291.63 651.59,284.60 652.00,285.00 652.34,288.06 652.58,297.84 652.79,296.89 653.07,303.26 653.43,299.49 653.63,305.53 653.92,303.21 654.28,309.68 654.50,312.50 654.75,312.90 654.91,307.46 655.02,311.72 655.29,301.16 655.48,301.76 655.70,290.49 655.88,294.47 656.04,281.84 656.22,285.09 656.41,281.78 656.66,287.17 656.80,275.60 656.92,283.88 657.19,282.27 657.27,288.34 657.47,288.79 657.72,295.94 657.89,291.55 658.00,302.38 658.21,295.79 658.40,304.20 659.20,303.90 659.32,304.30 659.40,296.79 659.45,298.73 659.57,291.28 659.72,290.50 659.80,277.32 659.86,280.95 659.95,275.43 660.04,278.09 660.22,270.87 660.33,272.98 660.41,262.56 660.53,269.62 660.64,259.02 660.65,265.24 660.80,253.60 661.15,254.00 661.30,240.59 661.49,245.78 661.47,230.90 661.83,236.70 662.03,229.60 662.30,230.00 662.71,224.50 662.90,222.50 662.88,222.10 663.56,231.06 663.34,227.56 663.95,240.40 664.00,240.00 664.17,249.32 664.42,244.46 664.57,258.22 664.71,258.04 664.97,262.78 665.12,263.11 665.37,266.60 665.50,266.20 665.64,266.53 665.65,258.14 665.73,259.38 665.86,246.52 665.97,252.56 665.95,246.11 666.10,248.32 666.12,238.51 666.21,239.64 666.34,229.60 666.43,237.64 666.50,230.00 666.74,230.40 666.84,225.42 667.05,227.71 667.24,216.47 667.49,217.00 667.69,200.90 667.84,210.33 668.06,200.90 668.20,201.30 668.28,200.90 668.77,209.65 668.89,205.69 669.04,215.83 669.40,217.40 669.86,221.08 670.57,216.23 671.00,217.00 671.33,220.80 672.00,225.00 672.06,220.39 672.50,221.38 672.44,208.76 672.56,217.17 672.84,203.03 672.97,205.65 673.40,200.52 673.50,200.80 673.55,204.83 673.54,216.91 673.58,204.54 673.68,218.44 673.65,210.34 673.71,221.11 673.81,214.86 673.82,227.62 673.84,230.47 673.91,237.90 673.98,234.64 673.93,241.96 673.98,236.09 674.04,242.18 674.10,247.30 674.20,246.90 674.23,233.81 674.42,237.85 674.46,232.93 674.56,232.08 674.69,225.32 674.72,229.02 674.86,216.75 674.96,222.05 675.00,215.00 675.12,215.40 675.56,209.41 675.51,215.40 675.73,199.60 676.00,200.00 676.13,195.62 676.59,193.83 676.45,186.77 676.57,188.84 677.00,183.10" fill="none" stroke="#8c93aa" stroke-width="2.2" stroke-linejoin="round" stroke-linecap="round"/>
<line x1="49" y1="485.3" x2="682.8" y2="485.3" stroke="#4a4a4a" stroke-width="1.15"/>
<g stroke="#444" stroke-width="1.1"><line x1="86.40" y1="485" x2="86.40" y2="490.5" /><line x1="99.37" y1="485" x2="99.37" y2="487.6" /><line x1="112.33" y1="485" x2="112.33" y2="487.6" /><line x1="125.30" y1="485" x2="125.30" y2="487.6" /><line x1="138.26" y1="485" x2="138.26" y2="487.6" /><line x1="151.23" y1="485" x2="151.23" y2="490.5" /><line x1="164.20" y1="485" x2="164.20" y2="487.6" /><line x1="177.16" y1="485" x2="177.16" y2="487.6" /><line x1="190.13" y1="485" x2="190.13" y2="487.6" /><line x1="203.09" y1="485" x2="203.09" y2="487.6" /><line x1="216.06" y1="485" x2="216.06" y2="490.5" /><line x1="229.03" y1="485" x2="229.03" y2="487.6" /><line x1="241.99" y1="485" x2="241.99" y2="487.6" /><line x1="254.96" y1="485" x2="254.96" y2="487.6" /><line x1="267.92" y1="485" x2="267.92" y2="487.6" /><line x1="280.89" y1="485" x2="280.89" y2="490.5" /><line x1="293.86" y1="485" x2="293.86" y2="487.6" /><line x1="306.82" y1="485" x2="306.82" y2="487.6" /><line x1="319.79" y1="485" x2="319.79" y2="487.6" /><line x1="332.75" y1="485" x2="332.75" y2="487.6" /><line x1="345.72" y1="485" x2="345.72" y2="490.5" /><line x1="358.69" y1="485" x2="358.69" y2="487.6" /><line x1="371.65" y1="485" x2="371.65" y2="487.6" /><line x1="384.62" y1="485" x2="384.62" y2="487.6" /><line x1="397.58" y1="485" x2="397.58" y2="487.6" /><line x1="410.55" y1="485" x2="410.55" y2="490.5" /><line x1="423.52" y1="485" x2="423.52" y2="487.6" /><line x1="436.48" y1="485" x2="436.48" y2="487.6" /><line x1="449.45" y1="485" x2="449.45" y2="487.6" /><line x1="462.41" y1="485" x2="462.41" y2="487.6" /><line x1="475.38" y1="485" x2="475.38" y2="490.5" /><line x1="488.35" y1="485" x2="488.35" y2="487.6" /><line x1="501.31" y1="485" x2="501.31" y2="487.6" /><line x1="514.28" y1="485" x2="514.28" y2="487.6" /><line x1="527.24" y1="485" x2="527.24" y2="487.6" /><line x1="540.21" y1="485" x2="540.21" y2="490.5" /><line x1="553.18" y1="485" x2="553.18" y2="487.6" /><line x1="566.14" y1="485" x2="566.14" y2="487.6" /><line x1="579.11" y1="485" x2="579.11" y2="487.6" /><line x1="592.07" y1="485" x2="592.07" y2="487.6" /><line x1="605.04" y1="485" x2="605.04" y2="490.5" /><line x1="618.01" y1="485" x2="618.01" y2="487.6" /><line x1="630.97" y1="485" x2="630.97" y2="487.6" /><line x1="643.94" y1="485" x2="643.94" y2="487.6" /><line x1="656.90" y1="485" x2="656.90" y2="487.6" /><line x1="669.87" y1="485" x2="669.87" y2="490.5" /></g>
<g font-family="Liberation Sans" font-size="13.5" fill="#2b2b2b" stroke="#2b2b2b" stroke-width="0.2"><text x="86.40" y="505.8" text-anchor="middle">1980</text><text x="151.23" y="505.8" text-anchor="middle">'85</text><text x="216.06" y="505.8" text-anchor="middle">'90</text><text x="280.89" y="505.8" text-anchor="middle">'95</text><text x="345.72" y="505.8" text-anchor="middle">2000</text><text x="410.55" y="505.8" text-anchor="middle">'05</text><text x="475.38" y="505.8" text-anchor="middle">'10</text><text x="540.21" y="505.8" text-anchor="middle">'15</text><text x="605.04" y="505.8" text-anchor="middle">'20</text><text x="669.87" y="505.8" text-anchor="middle">'25</text></g>
</svg>
</body></html>
